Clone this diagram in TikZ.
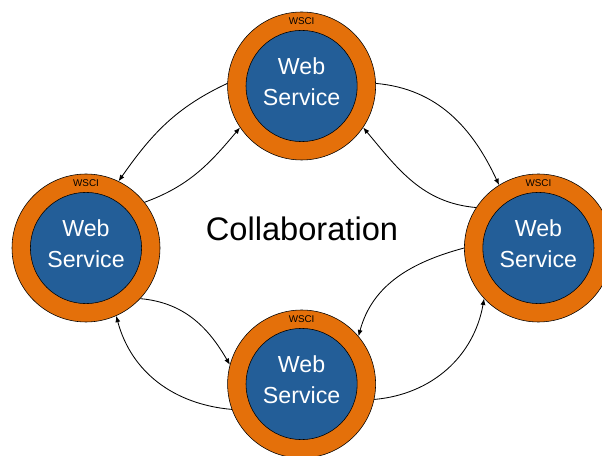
\documentclass[tikz,border=0pt]{standalone}
\usepackage{fontspec}
\setmainfont{Liberation Sans}
\usetikzlibrary{arrows.meta, positioning}
\definecolor{wsorange}{RGB}{228,112,10}
\definecolor{wsblue}{RGB}{35,94,152}

\begin{document}
\begin{tikzpicture}[
	ring/.style={circle, draw=black, fill=wsorange, minimum size=3.7cm, inner sep=0pt},
	core/.style={circle, draw=black, fill=wsblue, minimum size=2.78cm, inner sep=0pt},
	wstext/.style={text=white, align=center, inner sep=0pt, font=\fontsize{16.5}{22}\selectfont},
	tag/.style={inner sep=0pt, font=\fontsize{7}{8}\selectfont},
	link/.style={line width=0.6pt, -{Latex[length=4.5pt,width=3.6pt]}}
	]
	
	\useasboundingbox (0,0) rectangle (15.05,11.375);
	\clip (0,0) rectangle (15.05,11.375);
	
	% services
	\foreach \n/\x/\y in {T/7.54/9.225, L/2.15/5.175, R/13.46/5.175, B/7.54/1.775} {
		\node[ring] (ring\n) at (\x,\y) {};
		\node[core] (ws\n) at (\x,\y) {};
		\node[wstext] (txt\n) at ([yshift=0.1cm]ws\n.center) {Web\\Service};
		\node[tag] (wsci\n) at ([yshift=1.61cm]ws\n.center) {WSCI};
	}
	
	\node[font=\fontsize{23.2}{28}\selectfont] (collab) at (7.55,5.66) {Collaboration};
	
	% links
	\draw[link] (ringT.178) to[out=205,in=55] (ringL.64);
	\draw[link] (ringL.38) to[out=20,in=230] (ringT.214);
	
	\draw[link] (ringT.2) to[out=-5,in=115] (ringR.122);
	\draw[link] (ringR.147) to[out=175,in=-50] (ringT.-34);
	
	\draw[link] (ringR.180) to[out=195,in=75] (ringB.40);
	\draw[link] (ringB.-12) to[out=5,in=-100] (ringR.223);
	
	\draw[link] (ringL.-43) to[out=-5,in=120] (ringB.165);
	\draw[link] (ringB.200) to[out=175,in=-75] (ringL.-66);
	
\end{tikzpicture}
\end{document}
